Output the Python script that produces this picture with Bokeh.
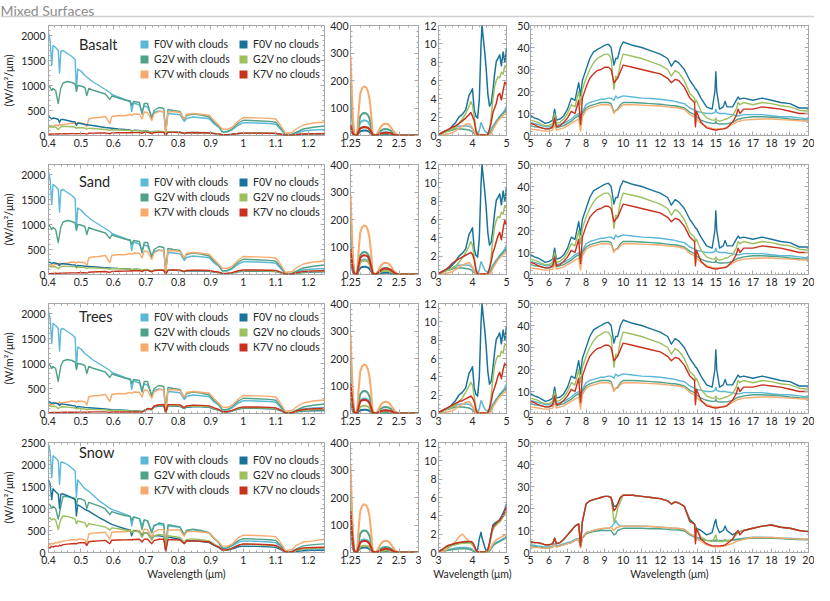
import numpy as np
from bokeh.plotting import figure
from bokeh.layouts import column, row
from bokeh.models import (Range1d, FixedTicker, CustomJSTickFormatter, LinearAxis,
                          Legend, LegendItem, Label, Span)
from bokeh.embed import file_html
from bokeh.resources import INLINE

FONT = "Lato"
TEXT_COLOR = "#262626"
FRAME_COLOR = "#a8a8a8"

TITLE = "Mixed Surfaces"
SURFACES = ["Basalt", "Sand", "Trees", "Snow"]
SERIES = ["F0V with clouds", "G2V with clouds", "K7V with clouds",
          "F0V no clouds", "G2V no clouds", "K7V no clouds"]
COLORS = ["#5cb8d7", "#4fa28a", "#f6aa6c", "#18729a", "#9dbf5f", "#c9311f"]
X_LABEL = "Wavelength (μm)"
Y_LABEL = "(W/m²/μm)"

# ---------------- tick values ----------------
P1_XTICKS = [0.4, 0.5, 0.6, 0.7, 0.8, 0.9, 1.0, 1.1, 1.2]
P1_YTICKS = [0, 500, 1000, 1500, 2000]
P1_YTICKS_SNOW = [0, 500, 1000, 1500, 2000, 2500]
P2_XTICKS = [1.25, 2, 2.5, 3]
P2_YTICKS = [0, 100, 200, 300, 400]
P3_XTICKS = [3, 4, 5]
P3_YTICKS = [0, 2, 4, 6, 8, 10, 12]
P4_XTICKS = [5, 6, 7, 8, 9, 10, 11, 12, 13, 14, 15, 16, 17, 18, 19, 20]
P4_YTICKS = [0, 10, 20, 30, 40, 50]

# ---------------- panel 1 : 0.4 - 1.25 um ----------------
VIS_X = [0.400, 0.405, 0.410, 0.414, 0.422, 0.430, 0.434, 0.438, 0.445, 0.458,
         0.472, 0.482, 0.486, 0.490, 0.500, 0.512, 0.518, 0.524, 0.535, 0.555,
         0.575, 0.589, 0.595, 0.615, 0.635, 0.652, 0.656, 0.662, 0.680, 0.688,
         0.695, 0.705, 0.718, 0.725, 0.740, 0.755, 0.761, 0.768, 0.785, 0.805,
         0.818, 0.825, 0.845, 0.870, 0.895, 0.910, 0.925, 0.935, 0.950, 0.965,
         0.985, 1.000, 1.040, 1.080, 1.100, 1.115, 1.130, 1.150, 1.165, 1.185, 1.215, 1.250]

VIS_F0V_CLOUDS = [2050, 1900, 1400, 1800, 1760, 1700, 1250, 1680, 1700, 1640,
                  1580, 1520, 900, 1330, 1290, 1200, 1170, 1140, 1080, 1000,
                  920, 860, 820, 770, 720, 670, 480, 650, 610, 480,
                  590, 570, 380, 460, 490, 470, 80, 440, 430, 415,
                  280, 340, 370, 355, 335, 230, 160, 80, 70, 110,
                  210, 258, 250, 240, 225, 120, 15, 20, 50, 90, 110, 120]
VIS_G2V_CLOUDS = [1000, 960, 900, 940, 900, 640, 800, 950, 1050, 1080,
                  1060, 1030, 880, 1000, 990, 960, 800, 940, 910, 870,
                  830, 720, 790, 750, 710, 690, 600, 680, 660, 430,
                  640, 640, 340, 500, 560, 540, 60, 520, 500, 480,
                  320, 400, 430, 410, 370, 260, 180, 70, 80, 130,
                  250, 305, 295, 282, 265, 150, 15, 25, 70, 130, 165, 190]
VIS_K7V_CLOUDS = [180, 160, 200, 175, 210, 190, 230, 205, 220, 230,
                  250, 240, 230, 250, 245, 235, 170, 330, 350, 360,
                  380, 240, 380, 400, 395, 420, 400, 430, 425, 330,
                  470, 460, 300, 430, 480, 480, 20, 470, 480, 460,
                  330, 420, 440, 425, 405, 300, 200, 130, 120, 160,
                  290, 360, 352, 342, 330, 200, 40, 60, 140, 210, 250, 270]

VIS_BASALT_F0V = [380, 360, 330, 350, 340, 320, 260, 320, 320, 300,
                  280, 270, 200, 250, 240, 220, 215, 210, 200, 180,
                  160, 150, 145, 130, 120, 110, 85, 105, 100, 80,
                  95, 90, 60, 80, 80, 75, 10, 70, 70, 65,
                  45, 55, 60, 55, 50, 40, 30, 15, 15, 25,
                  40, 45, 45, 42, 40, 25, 3, 5, 15, 25, 30, 35]
VIS_BASALT_G2V = [190, 180, 170, 175, 170, 120, 150, 170, 185, 180,
                  175, 165, 140, 160, 155, 150, 125, 145, 140, 130,
                  120, 105, 115, 110, 105, 100, 90, 98, 95, 70,
                  90, 88, 55, 75, 80, 78, 10, 75, 72, 68,
                  48, 60, 62, 60, 55, 42, 30, 12, 14, 22,
                  40, 48, 47, 45, 42, 25, 3, 5, 18, 30, 36, 40]
VIS_BASALT_K7V = [30, 25, 32, 28, 33, 30, 35, 32, 35, 36,
                  38, 37, 35, 38, 38, 37, 28, 45, 48, 50,
                  52, 35, 53, 55, 55, 57, 55, 58, 58, 45,
                  62, 62, 40, 58, 63, 63, 5, 62, 62, 60,
                  42, 55, 56, 54, 50, 38, 28, 15, 14, 22,
                  40, 48, 47, 45, 43, 26, 4, 6, 20, 30, 34, 36]

VIS_SAND_F0V = [250, 240, 220, 235, 225, 215, 180, 215, 215, 205,
                195, 190, 150, 180, 175, 165, 162, 160, 155, 145,
                135, 130, 128, 120, 115, 110, 85, 105, 100, 80,
                98, 95, 60, 85, 88, 85, 10, 82, 82, 78,
                55, 68, 72, 70, 65, 50, 38, 18, 18, 30,
                55, 65, 65, 62, 58, 35, 4, 8, 25, 40, 48, 52]
VIS_SAND_G2V = [170, 160, 150, 158, 155, 110, 140, 155, 165, 162,
                158, 152, 130, 148, 145, 140, 118, 138, 135, 128,
                120, 108, 118, 115, 112, 110, 98, 108, 106, 80,
                102, 100, 62, 88, 95, 93, 12, 90, 90, 86,
                60, 76, 80, 78, 72, 55, 40, 18, 20, 32,
                62, 75, 74, 70, 66, 40, 5, 8, 30, 48, 58, 62]
VIS_SAND_K7V = [20, 18, 22, 20, 24, 23, 26, 25, 28, 30,
                33, 33, 32, 35, 36, 37, 28, 46, 50, 55,
                60, 40, 62, 66, 68, 72, 70, 74, 76, 58,
                82, 82, 55, 78, 86, 88, 8, 88, 90, 88,
                62, 80, 86, 84, 80, 60, 45, 22, 22, 38,
                75, 90, 90, 86, 80, 48, 6, 10, 38, 60, 72, 76]

VIS_TREES_F0V = [240, 225, 200, 215, 205, 195, 160, 190, 188, 175,
                 160, 152, 115, 140, 132, 122, 118, 115, 110, 102,
                 92, 82, 78, 70, 64, 58, 45, 55, 52, 40,
                 60, 85, 75, 130, 150, 152, 15, 150, 148, 142,
                 95, 125, 135, 132, 122, 90, 65, 30, 30, 50,
                 90, 105, 102, 96, 90, 55, 6, 10, 35, 50, 56, 60]
VIS_TREES_G2V = [160, 150, 140, 146, 140, 95, 118, 130, 135, 128,
                 118, 110, 92, 102, 96, 90, 75, 86, 82, 78,
                 72, 60, 64, 58, 54, 50, 45, 50, 48, 38,
                 60, 90, 80, 140, 162, 165, 16, 162, 160, 156,
                 105, 138, 150, 146, 136, 100, 72, 32, 32, 55,
                 100, 118, 115, 108, 100, 62, 7, 12, 45, 65, 75, 80]
VIS_TREES_K7V = [20, 18, 21, 20, 22, 21, 23, 22, 24, 25,
                 26, 26, 25, 27, 27, 27, 20, 30, 32, 33,
                 32, 22, 32, 30, 30, 30, 29, 30, 32, 28,
                 55, 100, 90, 150, 175, 180, 18, 178, 178, 172,
                 118, 152, 165, 162, 152, 112, 80, 36, 36, 62,
                 112, 132, 130, 122, 112, 70, 8, 14, 55, 80, 95, 100]

VIS_SNOW_F0V_CLOUDS = [2450, 2300, 1700, 2200, 2150, 2080, 1550, 2050, 2050, 2000,
                       1920, 1850, 1250, 1650, 1560, 1450, 1420, 1390, 1320, 1180,
                       1080, 1000, 980, 930, 870, 820, 600, 800, 770, 620,
                       740, 720, 480, 620, 640, 620, 110, 600, 590, 570,
                       400, 500, 520, 480, 440, 320, 220, 110, 100, 150,
                       230, 265, 255, 240, 225, 130, 15, 20, 45, 70, 80, 85]
VIS_SNOW_G2V_CLOUDS = [1100, 1080, 1000, 1050, 1000, 760, 900, 1050, 1280, 1270,
                       1250, 1230, 1080, 1220, 1220, 1180, 1000, 1140, 1110, 1060,
                       990, 860, 930, 880, 840, 820, 720, 810, 770, 520,
                       740, 720, 440, 600, 670, 650, 80, 630, 610, 580,
                       400, 500, 530, 500, 450, 320, 220, 90, 100, 170,
                       270, 315, 305, 290, 275, 160, 20, 30, 90, 150, 180, 195]
VIS_SNOW_K7V_CLOUDS = [190, 170, 210, 190, 230, 220, 250, 235, 260, 270,
                       290, 290, 280, 300, 300, 290, 200, 420, 440, 450,
                       460, 300, 460, 470, 470, 490, 470, 500, 500, 400,
                       530, 520, 350, 470, 520, 520, 20, 510, 515, 510,
                       370, 470, 480, 465, 450, 330, 230, 150, 140, 190,
                       340, 395, 385, 372, 360, 220, 40, 70, 170, 240, 265, 300]
VIS_SNOW_F0V = [1650, 1550, 1200, 1450, 1380, 1330, 1000, 1330, 1330, 1290,
                1240, 1200, 830, 1080, 1040, 980, 960, 940, 890, 800,
                720, 660, 640, 590, 540, 510, 380, 500, 470, 380,
                450, 440, 300, 380, 380, 360, 70, 350, 330, 300,
                210, 260, 270, 250, 225, 160, 110, 55, 50, 80,
                130, 145, 140, 128, 118, 65, 8, 10, 25, 40, 48, 52]
VIS_SNOW_G2V = [800, 780, 740, 770, 740, 520, 650, 750, 830, 820,
                790, 760, 650, 720, 700, 680, 580, 660, 640, 610,
                580, 510, 560, 540, 510, 495, 450, 490, 470, 340,
                450, 440, 280, 380, 410, 400, 40, 380, 365, 340,
                240, 295, 310, 290, 265, 190, 130, 50, 55, 95,
                165, 190, 180, 165, 155, 90, 10, 15, 50, 80, 95, 100]
VIS_SNOW_K7V = [120, 105, 140, 125, 150, 140, 165, 150, 180, 190,
                200, 205, 195, 215, 225, 220, 160, 245, 255, 265,
                275, 200, 280, 285, 288, 292, 285, 296, 300, 240,
                305, 300, 200, 270, 300, 300, 25, 292, 290, 285,
                200, 260, 265, 255, 240, 170, 120, 60, 60, 100,
                165, 195, 188, 175, 160, 95, 12, 18, 70, 105, 115, 120]

# ---------------- panel 2 : 1.25 - 3 um ----------------
NIR_X = [1.25, 1.28, 1.31, 1.34, 1.38, 1.42, 1.46, 1.50, 1.55, 1.60,
         1.65, 1.70, 1.74, 1.78, 1.82, 1.90, 1.96, 2.00, 2.05, 2.10,
         2.15, 2.20, 2.25, 2.30, 2.35, 2.40, 2.45, 2.50, 2.60, 3.00]
NIR_F0V_CLOUDS = [135, 80, 34, 6, 0, 1, 27, 47, 53, 55,
                  54, 50, 41, 25, 3, 0, 3, 6, 9, 11,
                  12, 11, 10, 8, 5, 2, 1, 0, 0, 0]
NIR_G2V_CLOUDS = [190, 115, 48, 9, 0, 1, 40, 70, 79, 82,
                  81, 74, 62, 37, 4, 0, 7, 13, 19, 23,
                  24, 23, 20, 16, 10, 5, 2, 0, 0, 0]
NIR_K7V_CLOUDS = [290, 175, 72, 12, 0, 2, 88, 152, 172, 178,
                  176, 160, 133, 80, 8, 0, 13, 24, 35, 41,
                  43, 42, 37, 28, 17, 8, 3, 0, 0, 0]
NIR_BASALT_F0V = [25, 15, 6, 1, 0, 0, 9, 15, 17, 18,
                  18, 16, 13, 8, 1, 0, 1, 2, 3, 4,
                  4, 4, 3, 3, 2, 1, 0, 0, 0, 0]
NIR_BASALT_G2V = [30, 18, 7, 1, 0, 0, 15, 26, 29, 30,
                  30, 27, 22, 13, 2, 0, 2, 4, 6, 7,
                  8, 8, 7, 5, 3, 2, 1, 0, 0, 0]
NIR_BASALT_K7V = [38, 23, 9, 2, 0, 0, 15, 26, 29, 31,
                  30, 28, 23, 14, 2, 0, 3, 5, 8, 9,
                  10, 10, 9, 7, 4, 2, 1, 0, 0, 0]
NIR_SAND_F0V = [50, 30, 12, 2, 0, 0, 14, 24, 27, 28,
                28, 25, 21, 12, 2, 0, 2, 3, 5, 6,
                6, 6, 5, 4, 3, 1, 0, 0, 0, 0]
NIR_SAND_G2V = [70, 42, 17, 3, 0, 0, 25, 43, 49, 50,
                50, 46, 37, 22, 3, 0, 4, 7, 11, 13,
                14, 13, 12, 9, 6, 3, 1, 0, 0, 0]
NIR_SAND_K7V = [92, 55, 22, 4, 0, 0, 35, 60, 68, 70,
                69, 64, 52, 31, 4, 0, 6, 11, 17, 21,
                22, 21, 19, 15, 9, 4, 1, 0, 0, 0]
NIR_TREES_F0V = [40, 24, 9, 2, 0, 0, 7, 12, 13, 14,
                 14, 12, 10, 6, 1, 0, 1, 1, 2, 3,
                 3, 3, 2, 2, 1, 0, 0, 0, 0, 0]
NIR_TREES_G2V = [65, 39, 15, 3, 0, 0, 14, 24, 27, 28,
                 28, 25, 20, 12, 2, 0, 2, 3, 5, 6,
                 7, 7, 6, 5, 3, 1, 0, 0, 0, 0]
NIR_TREES_K7V = [108, 65, 26, 5, 0, 0, 25, 43, 48, 50,
                 49, 45, 37, 22, 3, 0, 3, 6, 9, 11,
                 12, 11, 10, 8, 5, 2, 1, 0, 0, 0]
NIR_SNOW_F0V_CLOUDS = [150, 90, 38, 7, 0, 1, 23, 40, 46, 47,
                       46, 43, 35, 21, 3, 0, 3, 5, 8, 9,
                       10, 10, 8, 7, 4, 2, 1, 0, 0, 0]
NIR_SNOW_G2V_CLOUDS = [220, 130, 55, 10, 0, 1, 40, 68, 78, 80,
                       79, 72, 60, 36, 4, 0, 6, 11, 16, 19,
                       20, 19, 17, 13, 8, 4, 1, 0, 0, 0]
NIR_SNOW_K7V_CLOUDS = [318, 190, 78, 13, 0, 2, 87, 150, 170, 175,
                       173, 158, 131, 79, 8, 0, 13, 24, 35, 41,
                       43, 42, 37, 28, 17, 8, 3, 0, 0, 0]
NIR_SNOW_F0V = [90, 54, 22, 4, 0, 0, 9, 15, 17, 18,
                18, 16, 13, 8, 1, 0, 1, 2, 3, 4,
                5, 5, 4, 3, 2, 1, 0, 0, 0, 0]
NIR_SNOW_G2V = [120, 72, 30, 6, 0, 0, 12, 21, 24, 25,
                25, 23, 19, 11, 2, 0, 2, 3, 5, 6,
                7, 7, 6, 5, 3, 1, 0, 0, 0, 0]
NIR_SNOW_K7V = [150, 90, 38, 7, 0, 1, 20, 36, 41, 42,
                42, 38, 31, 19, 3, 0, 3, 6, 9, 12,
                14, 13, 11, 9, 5, 2, 1, 0, 0, 0]

# ---------------- panel 3 : 3 - 5 um ----------------
MIR_X = [3.0, 3.1, 3.2, 3.3, 3.4, 3.5, 3.6, 3.7, 3.8, 3.9,
         3.95, 4.0, 4.05, 4.1, 4.15, 4.2, 4.25, 4.28, 4.32, 4.36,
         4.4, 4.45, 4.5, 4.55, 4.6, 4.65, 4.7, 4.75, 4.8, 4.85,
         4.9, 4.95, 5.0]
MIR_F0V_CLOUDS = [0.1, 0.2, 0.4, 0.5, 0.7, 0.9, 1.0, 1.05, 1.05, 1.0,
                  0.9, 0.7, 0.4, 0.2, 0.1, 0.5, 1.4, 1.2, 0.8, 0.5,
                  0.35, 0.3, 0.4, 0.7, 1.05, 1.3, 1.6, 1.8, 2.1, 2.3,
                  2.5, 2.8, 3.2]
MIR_G2V_CLOUDS = [0.05, 0.2, 0.4, 0.5, 0.6, 0.7, 0.7, 0.7, 0.65, 0.6,
                  0.5, 0.4, 0.2, 0.05, 0.02, 0.02, 0.05, 0.05, 0.05, 0.05,
                  0.05, 0.1, 0.2, 0.4, 0.8, 1.1, 1.5, 1.7, 2.0, 2.2,
                  2.4, 2.6, 2.8]
MIR_K7V_CLOUDS = [0.02, 0.05, 0.1, 0.2, 0.3, 0.5, 0.8, 1.0, 1.2, 1.3,
                  1.1, 0.8, 0.4, 0.05, 0.02, 0.02, 0.02, 0.02, 0.02, 0.02,
                  0.02, 0.05, 0.1, 0.2, 0.7, 1.0, 1.3, 1.6, 1.8, 2.0,
                  2.2, 2.3, 2.5]
MIR_F0V_CLEAR = [0.1, 0.3, 0.5, 0.6, 1.0, 1.4, 2.0, 2.3, 2.8, 4.4,
                 4.7, 5.1, 2.8, 2.1, 1.9, 3.9, 9.8, 12.0, 10.5, 9.1,
                 7.4, 4.6, 3.2, 3.5, 4.9, 6.7, 8.1, 8.4, 8.8, 7.6,
                 9.1, 8.0, 9.5]
MIR_BASALT_G2V = [0.05, 0.2, 0.4, 0.5, 0.7, 0.9, 1.3, 1.8, 2.4, 3.2,
                  3.7, 3.3, 2.1, 0.7, 0.1, 0.05, 0.05, 0.05, 0.05, 0.05,
                  0.05, 0.1, 0.5, 2.1, 3.9, 5.3, 6.0, 6.4, 6.3, 6.9,
                  6.7, 7.6, 7.4]
MIR_BASALT_K7V = [0.1, 0.3, 0.5, 0.7, 0.9, 1.05, 1.3, 1.6, 1.9, 2.3,
                  2.5, 2.1, 1.6, 0.5, 0.05, 0.05, 0.05, 0.05, 0.05, 0.05,
                  0.05, 0.1, 0.7, 1.4, 2.5, 3.0, 3.5, 4.4, 4.6, 3.9,
                  4.9, 5.8, 5.6]
MIR_SAND_G2V = [0.05, 0.2, 0.4, 0.5, 0.7, 0.9, 1.3, 1.8, 2.4, 3.1,
                3.6, 3.2, 2.0, 0.7, 0.1, 0.05, 0.05, 0.05, 0.05, 0.05,
                0.05, 0.1, 0.5, 2.0, 3.8, 5.2, 5.9, 6.3, 6.2, 6.8,
                6.6, 7.5, 7.3]
MIR_SAND_K7V = [0.1, 0.3, 0.5, 0.8, 1.2, 1.5, 1.7, 1.9, 2.1, 2.3,
                2.4, 2.2, 1.6, 0.5, 0.05, 0.05, 0.05, 0.05, 0.05, 0.05,
                0.05, 0.1, 0.7, 1.4, 2.4, 2.9, 3.6, 4.2, 4.6, 3.8,
                5.0, 5.9, 5.4]
MIR_TREES_G2V = [0.05, 0.2, 0.4, 0.5, 0.7, 0.9, 1.3, 1.7, 2.3, 3.0,
                 3.4, 3.1, 1.9, 0.7, 0.1, 0.05, 0.05, 0.05, 0.05, 0.05,
                 0.05, 0.1, 0.5, 2.0, 3.8, 5.2, 5.9, 6.3, 6.2, 6.8,
                 6.6, 7.6, 7.4]
MIR_TREES_K7V = [0.1, 0.3, 0.5, 0.7, 0.9, 1.1, 1.3, 1.4, 1.6, 1.8,
                 1.9, 1.7, 1.3, 0.4, 0.05, 0.05, 0.05, 0.05, 0.05, 0.05,
                 0.05, 0.1, 0.6, 1.3, 2.3, 2.8, 3.4, 4.1, 4.5, 3.8,
                 4.8, 5.5, 5.2]
MIR_SNOW_F0V_CLOUDS = [0.1, 0.2, 0.25, 0.3, 0.4, 0.5, 0.55, 0.55, 0.55, 0.5,
                       0.45, 0.3, 0.15, 0.05, 0.02, 0.02, 0.02, 0.02, 0.02, 0.02,
                       0.02, 0.05, 0.2, 0.5, 0.8, 1.0, 1.1, 1.2, 1.3, 1.4,
                       1.5, 1.6, 1.8]
MIR_SNOW_G2V_CLOUDS = [0.05, 0.1, 0.2, 0.25, 0.3, 0.35, 0.4, 0.4, 0.4, 0.35,
                       0.3, 0.2, 0.1, 0.03, 0.02, 0.02, 0.02, 0.02, 0.02, 0.02,
                       0.02, 0.04, 0.15, 0.4, 0.7, 0.9, 1.0, 1.1, 1.2, 1.3,
                       1.4, 1.5, 1.7]
MIR_SNOW_K7V_CLOUDS = [0.05, 0.1, 0.2, 0.5, 0.8, 1.2, 1.7, 2.0, 1.6, 1.2,
                       1.0, 0.8, 0.5, 0.2, 0.05, 0.05, 0.05, 0.05, 0.05, 0.05,
                       0.05, 0.1, 0.3, 0.6, 1.0, 1.2, 1.4, 1.5, 1.6, 1.7,
                       1.8, 1.9, 2.0]
MIR_SNOW_F0V = [0.1, 0.3, 0.5, 0.7, 0.85, 0.95, 1.05, 1.1, 1.1, 1.15,
                1.1, 1.0, 0.7, 0.3, 0.3, 1.5, 2.2, 1.6, 1.1, 0.6,
                0.2, 0.3, 1.0, 2.0, 3.0, 3.2, 3.3, 3.4, 3.6, 3.9,
                4.3, 4.7, 5.3]
MIR_SNOW_G2V = [0.1, 0.25, 0.45, 0.6, 0.75, 0.85, 0.95, 1.0, 1.0, 1.05,
                1.0, 0.9, 0.6, 0.2, 0.05, 0.05, 0.05, 0.05, 0.05, 0.05,
                0.05, 0.1, 0.8, 1.7, 2.5, 2.8, 3.0, 3.2, 3.3, 3.6,
                3.9, 4.2, 4.6]
MIR_SNOW_K7V = [0.1, 0.3, 0.6, 0.8, 0.9, 1.0, 1.1, 1.15, 1.2, 1.2,
                1.2, 1.1, 0.8, 0.3, 0.05, 0.05, 0.05, 0.05, 0.05, 0.05,
                0.05, 0.3, 1.0, 2.0, 2.8, 3.0, 3.2, 3.4, 3.5, 3.8,
                4.0, 4.5, 5.0]

# ---------------- panel 4 : 5 - 20 um ----------------
TIR_X = [5.0, 5.2, 5.4, 5.6, 5.8, 6.0, 6.2, 6.3, 6.4, 6.6,
         6.8, 7.0, 7.2, 7.4, 7.6, 7.7, 7.8, 8.0, 8.2, 8.4,
         8.6, 8.8, 9.0, 9.2, 9.35, 9.5, 9.6, 9.7, 9.85, 10.0,
         10.5, 11.0, 11.5, 12.0, 12.4, 12.6, 12.8, 13.0, 13.3, 13.6,
         13.85, 13.9, 13.95, 14.2, 14.5, 14.8, 14.95, 15.0, 15.05, 15.2,
         15.4, 15.5, 15.6, 15.9, 16.1, 16.2, 16.3, 16.5, 17.0, 17.5,
         18.0, 18.5, 19.0, 19.5, 20.0]
TIR_F0V_CLOUDS = [6, 5.5, 5, 4.5, 4, 4, 4.5, 7, 4.5, 5,
                  5.5, 6.5, 7.5, 9, 10, 8, 11, 14, 15, 15.5,
                  16, 16.5, 16.5, 17, 17, 16, 18, 17, 17.5, 18,
                  17.5, 17, 16.8, 16.5, 16, 15.8, 15.5, 15, 14.5, 12.5,
                  11.5, 11, 11, 10.5, 10, 10, 10.5, 12, 10.5, 10,
                  10, 10, 9.8, 9.5, 9, 9, 9, 9.5, 9.5, 9.5,
                  9, 8.5, 8.5, 8, 7.5]
TIR_G2V_CLOUDS = [4.5, 4, 3.8, 3.5, 3, 3, 3.5, 6, 3.5, 4,
                  4.5, 5.5, 6.5, 8, 9, 6, 10, 12.5, 13.5, 14,
                  14.5, 15, 15, 15, 14.5, 10.5, 11.5, 12, 14, 15,
                  15, 14.8, 14.5, 14.2, 13.8, 13.5, 13.5, 13.2, 12.5, 10.5,
                  9.5, 8, 8.5, 7, 6, 5.5, 5.5, 6.5, 5.5, 5.2,
                  5.2, 5.3, 5.3, 6, 7, 7.5, 7.5, 8, 8.5, 8.5,
                  8.3, 8, 7.5, 7.2, 7]
TIR_K7V_CLOUDS = [3, 2.8, 2.5, 2.2, 2, 2, 2.5, 5, 2.5, 3,
                  3.5, 4.5, 5.5, 6.5, 7.5, 2, 8.5, 11.5, 12.5, 13,
                  13.5, 14, 14, 14, 13.5, 10, 11.5, 11.5, 13, 14,
                  14, 13.8, 13.6, 13.4, 13, 12.8, 12.7, 12.5, 11.8, 9.5,
                  8.5, 5, 7.5, 5.5, 4, 3.2, 3, 3, 3, 3,
                  3.2, 3.4, 3.6, 5, 6, 6.5, 6.5, 7, 7.3, 7.5,
                  7.5, 7.2, 7, 6.7, 6.5]
TIR_F0V_CLEAR = [9, 8, 7.5, 6.5, 5.5, 6, 7, 12, 7, 7.5,
                 9, 12, 17, 16, 24, 18, 25, 30, 35, 38,
                 39, 40, 41, 41.5, 40, 32, 35, 35, 40, 42.5,
                 41, 40, 38.5, 37, 35, 31.5, 34, 33, 30, 25,
                 22, 21, 21, 17, 13, 12, 20, 29, 20, 12,
                 13, 15.5, 13, 13, 16, 17.5, 16.5, 17, 16, 17,
                 16, 15, 14.5, 12.5, 12.5]
TIR_G2V_CLEAR = [7, 6.5, 6, 5, 4.5, 4.5, 5.5, 10, 5.5, 6,
                 7.5, 10, 14, 13, 20, 14, 21, 26, 30, 33,
                 35, 36, 37, 37, 35, 21, 27, 26, 33, 37,
                 36, 35, 33.5, 32, 30, 27, 29.5, 28.5, 25, 19,
                 17, 15, 16, 11, 8, 7, 7, 8, 7, 6.5,
                 7, 7.5, 7.5, 9, 12, 15, 14, 15, 14, 15,
                 14.5, 13.5, 13, 11.5, 11]
TIR_K7V_CLEAR = [5.5, 5, 4, 3.5, 3, 3, 4, 8, 4, 4.5,
                 6, 8, 11, 10, 16, 5, 17, 22, 26, 28,
                 29.5, 30, 31, 31, 30, 24, 25, 26, 29, 32,
                 31, 30, 29, 28, 26, 24, 25.5, 25, 22, 17,
                 15, 4, 11, 6, 3.5, 2.8, 2.5, 2.5, 2.5, 2.8,
                 3, 3.2, 3.5, 6, 9, 12, 10, 12, 12, 13,
                 12.5, 12, 11, 10, 10]
TIR_SNOW_F0V_CLOUDS = [3.5, 3.3, 3, 2.8, 2.5, 2.5, 3, 4, 3, 3.5,
                       4, 4.5, 5, 6, 6.5, 3, 7, 9, 9.5, 10,
                       10.5, 10.5, 11, 11, 11.5, 13, 14.5, 13, 12, 12,
                       12, 12, 11.8, 11.5, 11.3, 11, 11, 10.8, 10.5, 8.5,
                       7.5, 7, 7, 6.5, 5.5, 5.5, 5.5, 5.8, 5.5, 5.5,
                       5.5, 5.5, 5.5, 5.8, 6, 6, 6.2, 6.5, 7, 7,
                       6.8, 6.6, 6.5, 6.2, 6]
TIR_SNOW_G2V_CLOUDS = [3, 2.8, 2.5, 2.3, 2, 2, 2.5, 3.5, 2.5, 3,
                       3.5, 4, 4.5, 5.5, 6, 2.5, 6.5, 8.5, 9, 9.5,
                       9.8, 10, 10, 10, 10, 8, 8.5, 10, 10.5, 11,
                       11, 11, 10.8, 10.8, 10.5, 10.3, 10.3, 10.2, 9.8, 8,
                       7, 6.5, 6.5, 6, 5.5, 5.2, 5.2, 5.4, 5.2, 5.2,
                       5.2, 5.3, 5.3, 5.5, 5.8, 6, 6, 6.3, 6.5, 6.5,
                       6.5, 6.3, 6, 5.9, 5.8]
TIR_SNOW_K7V_CLOUDS = [2.5, 2.3, 2.2, 2, 2, 2, 2.5, 3.5, 2.5, 3,
                       3.5, 4, 4.5, 5.5, 6, 2, 7, 9, 9.5, 10,
                       10.5, 10.8, 11, 11, 11.5, 10, 11, 11.5, 11.8, 12,
                       12, 12, 11.8, 11.5, 11.3, 11, 11, 11, 10.5, 8.5,
                       7.5, 5, 6.5, 5, 3.5, 2.8, 2.5, 2.5, 2.5, 2.6,
                       2.8, 3, 3.2, 4.2, 5, 5.3, 5.5, 6, 6.8, 6.8,
                       6.8, 6.6, 6.3, 6.1, 6]
TIR_SNOW_F0V = [5, 4.5, 4.5, 4, 3.5, 3.5, 4, 6.5, 4, 4.5,
                6, 8, 10, 12, 13, 4, 14, 22, 23.5, 24,
                24.5, 25, 25.5, 25.5, 25, 21, 21, 22, 25, 26,
                26, 25.5, 25, 24.5, 23.5, 22, 23, 22.5, 21, 15,
                13, 12, 11, 10, 8, 9, 14, 15, 12, 9,
                10, 12, 10, 8, 9, 9, 9.5, 10, 11, 12,
                12.5, 11.5, 11, 10, 9.5]
TIR_SNOW_G2V = [5, 4.5, 4.5, 4, 3.5, 3.5, 4, 6.5, 4, 4.5,
                6, 8, 10, 12, 13, 4, 14, 22, 23.5, 24,
                24.5, 25, 25.5, 25.5, 25, 14, 16, 20, 23, 26,
                26, 25.5, 25, 24.5, 23.5, 22, 23, 22.5, 21, 14,
                13, 11, 11, 7, 5.5, 5, 7, 8, 6, 5,
                5, 6, 5, 6, 8, 9, 9.5, 10, 11, 12,
                12.5, 11.5, 11, 10, 9.5]
TIR_SNOW_K7V = [5, 4.5, 4.5, 4, 3.5, 3.5, 4, 6.5, 4, 4.5,
                6, 8, 10, 12, 13, 3, 14, 22, 23.5, 24,
                24.5, 25, 25.5, 25.5, 25, 19, 20, 22, 25, 26,
                26, 25.5, 25, 24.5, 23.5, 22, 23, 22.5, 21, 14,
                13, 4, 11, 6, 4, 3, 3, 3, 3, 3,
                3.2, 3.5, 4, 6, 9, 10, 8, 10, 11, 12,
                12.5, 11.5, 11, 10, 9.5]

# ---------------- assemble per surface (SERIES order) ----------------
VIS = {
    "Basalt": [VIS_F0V_CLOUDS, VIS_G2V_CLOUDS, VIS_K7V_CLOUDS, VIS_BASALT_F0V, VIS_BASALT_G2V, VIS_BASALT_K7V],
    "Sand": [VIS_F0V_CLOUDS, VIS_G2V_CLOUDS, VIS_K7V_CLOUDS, VIS_SAND_F0V, VIS_SAND_G2V, VIS_SAND_K7V],
    "Trees": [VIS_F0V_CLOUDS, VIS_G2V_CLOUDS, VIS_K7V_CLOUDS, VIS_TREES_F0V, VIS_TREES_G2V, VIS_TREES_K7V],
    "Snow": [VIS_SNOW_F0V_CLOUDS, VIS_SNOW_G2V_CLOUDS, VIS_SNOW_K7V_CLOUDS, VIS_SNOW_F0V, VIS_SNOW_G2V, VIS_SNOW_K7V],
}
NIR = {
    "Basalt": [NIR_F0V_CLOUDS, NIR_G2V_CLOUDS, NIR_K7V_CLOUDS, NIR_BASALT_F0V, NIR_BASALT_G2V, NIR_BASALT_K7V],
    "Sand": [NIR_F0V_CLOUDS, NIR_G2V_CLOUDS, NIR_K7V_CLOUDS, NIR_SAND_F0V, NIR_SAND_G2V, NIR_SAND_K7V],
    "Trees": [NIR_F0V_CLOUDS, NIR_G2V_CLOUDS, NIR_K7V_CLOUDS, NIR_TREES_F0V, NIR_TREES_G2V, NIR_TREES_K7V],
    "Snow": [NIR_SNOW_F0V_CLOUDS, NIR_SNOW_G2V_CLOUDS, NIR_SNOW_K7V_CLOUDS, NIR_SNOW_F0V, NIR_SNOW_G2V, NIR_SNOW_K7V],
}
MIR = {
    "Basalt": [MIR_F0V_CLOUDS, MIR_G2V_CLOUDS, MIR_K7V_CLOUDS, MIR_F0V_CLEAR, MIR_BASALT_G2V, MIR_BASALT_K7V],
    "Sand": [MIR_F0V_CLOUDS, MIR_G2V_CLOUDS, MIR_K7V_CLOUDS, MIR_F0V_CLEAR, MIR_SAND_G2V, MIR_SAND_K7V],
    "Trees": [MIR_F0V_CLOUDS, MIR_G2V_CLOUDS, MIR_K7V_CLOUDS, MIR_F0V_CLEAR, MIR_TREES_G2V, MIR_TREES_K7V],
    "Snow": [MIR_SNOW_F0V_CLOUDS, MIR_SNOW_G2V_CLOUDS, MIR_SNOW_K7V_CLOUDS, MIR_SNOW_F0V, MIR_SNOW_G2V, MIR_SNOW_K7V],
}
TIR_CLEAR_SKY = [TIR_F0V_CLOUDS, TIR_G2V_CLOUDS, TIR_K7V_CLOUDS, TIR_F0V_CLEAR, TIR_G2V_CLEAR, TIR_K7V_CLEAR]
TIR = {
    "Basalt": TIR_CLEAR_SKY, "Sand": TIR_CLEAR_SKY, "Trees": TIR_CLEAR_SKY,
    "Snow": [TIR_SNOW_F0V_CLOUDS, TIR_SNOW_G2V_CLOUDS, TIR_SNOW_K7V_CLOUDS, TIR_SNOW_F0V, TIR_SNOW_G2V, TIR_SNOW_K7V],
}

# ---------------- layout geometry ----------------
WIDTHS = [327, 94, 93, 300]
BORDER_L = [44, 23, 15, 14]
BORDER_R = [3, 3, 8, 6]
Y_STANDOFF = [3, 2, 2, 1]
TITLE_H = 18
ROW_H = 139
LAST_ROW_H = 150
BORDER_T = 7
BORDER_B = 22
LAST_BORDER_B = 33
LEGEND_Y = [54.5, 55.5, 59.4, 55.5]
NAME_Y = [91.5, 92.9, 96.7, 100.0]

FMT = "return String(Math.round(tick * 100) / 100);"


def style_axis(ax, standoff):
    ax.axis_line_color = None
    ax.major_tick_line_color = FRAME_COLOR
    ax.minor_tick_line_color = FRAME_COLOR
    ax.major_tick_in = 4
    ax.major_tick_out = 0
    ax.minor_tick_in = 2
    ax.minor_tick_out = 0
    ax.major_label_text_font = FONT
    ax.major_label_text_font_size = "10.5px"
    ax.major_label_text_color = TEXT_COLOR
    ax.major_label_standoff = standoff


def make_panel(k, height, bottom, xr, yr, xticks, xminor, yticks, yminor):
    p = figure(width=WIDTHS[k], height=height, x_range=Range1d(*xr), y_range=Range1d(*yr),
               output_backend="svg", toolbar_location=None,
               min_border_left=BORDER_L[k], min_border_right=BORDER_R[k],
               min_border_top=BORDER_T, min_border_bottom=bottom)
    p.outline_line_color = FRAME_COLOR
    p.outline_line_width = 1
    p.grid.visible = False
    p.background_fill_color = "white"
    p.border_fill_color = "white"
    xt = FixedTicker(ticks=xticks, minor_ticks=xminor)
    yt = FixedTicker(ticks=yticks, minor_ticks=yminor)
    xa = p.below[0]
    ya = p.left[0]
    xa.ticker = xt
    ya.ticker = yt
    xa.formatter = CustomJSTickFormatter(code=FMT)
    ya.formatter = CustomJSTickFormatter(code=FMT)
    style_axis(xa, 3)
    style_axis(ya, Y_STANDOFF[k])
    for tk, side in ((xt, "above"), (yt, "right")):
        ax = LinearAxis(ticker=tk, formatter=CustomJSTickFormatter(code="return '';"))
        style_axis(ax, 0)
        ax.major_label_text_font_size = "0px"
        p.add_layout(ax, side)
    return p


def minor(a, b, step):
    return [round(v, 4) for v in np.arange(a, b + step / 2, step)]


rows = []
for r, surf in enumerate(SURFACES):
    last = r == len(SURFACES) - 1
    h = LAST_ROW_H if last else ROW_H
    bb = LAST_BORDER_B if last else BORDER_B
    vis_top = 2500 if surf == "Snow" else 2200
    vis_ticks = P1_YTICKS_SNOW if surf == "Snow" else P1_YTICKS

    p1 = make_panel(0, h, bb, (0.4, 1.25), (0, vis_top), P1_XTICKS, minor(0.4, 1.25, 0.02),
                    vis_ticks, minor(0, vis_top, 100))
    p2 = make_panel(1, h, bb, (1.25, 3), (0, 400), P2_XTICKS, minor(1.25, 3, 0.25),
                    P2_YTICKS, minor(0, 400, 20))
    p3 = make_panel(2, h, bb, (3, 5), (0, 12), P3_XTICKS, minor(3, 5, 0.2),
                    P3_YTICKS, minor(0, 12, 0.5))
    p4 = make_panel(3, h, bb, (5, 20), (0, 50), P4_XTICKS, minor(5, 20, 0.2),
                    P4_YTICKS, minor(0, 50, 2))

    for p, xs, ys_list, lw in ((p1, VIS_X, VIS[surf], 1.4), (p2, NIR_X, NIR[surf], 2.0),
                               (p3, MIR_X, MIR[surf], 1.5), (p4, TIR_X, TIR[surf], 1.4)):
        for ys, c in zip(ys_list, COLORS):
            p.line(xs, ys, line_color=c, line_width=lw, line_join="round")

    # legend proxies (square swatches)
    proxies = []
    for c in COLORS:
        proxies.append(p1.quad(left=np.array([np.nan]), right=np.array([np.nan]),
                               top=np.array([np.nan]), bottom=np.array([np.nan]),
                               fill_color=c, line_color=None))
    for col in range(2):
        items = [LegendItem(label=SERIES[col * 3 + i], renderers=[proxies[col * 3 + i]]) for i in range(3)]
        leg = Legend(items=items, location=(91 if col == 0 else 190, LEGEND_Y[r]),
                     orientation="vertical", background_fill_alpha=0, border_line_color=None,
                     padding=0, margin=0, spacing=1, label_standoff=5,
                     glyph_width=10, glyph_height=10, label_height=14,
                     label_text_font=FONT, label_text_font_size="10.5px",
                     label_text_color=TEXT_COLOR)
        p1.add_layout(leg)

    p1.add_layout(Label(x=30.5, y=NAME_Y[r], x_units="screen", y_units="screen", text=surf,
                        text_font=FONT, text_font_size="14.5px", text_color=TEXT_COLOR,
                        text_baseline="middle"))

    ya = p1.left[0]
    ya.axis_label = Y_LABEL
    ya.axis_label_text_font = FONT
    ya.axis_label_text_font_size = "10.5px"
    ya.axis_label_text_font_style = "normal"
    ya.axis_label_text_color = TEXT_COLOR
    ya.axis_label_standoff = 3

    if last:
        for p in (p1, p3, p4):
            xa = p.below[0]
            xa.axis_label = X_LABEL
            xa.axis_label_text_font = FONT
            xa.axis_label_text_font_size = "10.5px"
            xa.axis_label_text_font_style = "normal"
            xa.axis_label_text_color = TEXT_COLOR
            xa.axis_label_standoff = 1

    rows.append(row(p1, p2, p3, p4))

# title strip
t = figure(width=814, height=TITLE_H, x_range=Range1d(0, 814), y_range=Range1d(0, TITLE_H),
           output_backend="svg", toolbar_location=None, x_axis_type=None, y_axis_type=None,
           min_border=0)
t.outline_line_color = None
t.grid.visible = False
t.add_layout(Label(x=0, y=TITLE_H - 1, x_units="screen", y_units="screen", text=TITLE,
                   text_font=FONT, text_font_size="14px", text_color="#8c8c8c",
                   text_baseline="top"))
t.add_layout(Span(location=2, dimension="width", line_color="#cfcfcf", line_width=1.5))

layout = column(t, *rows)

with open("out.html", "w") as f:
    f.write(file_html(layout, INLINE))
